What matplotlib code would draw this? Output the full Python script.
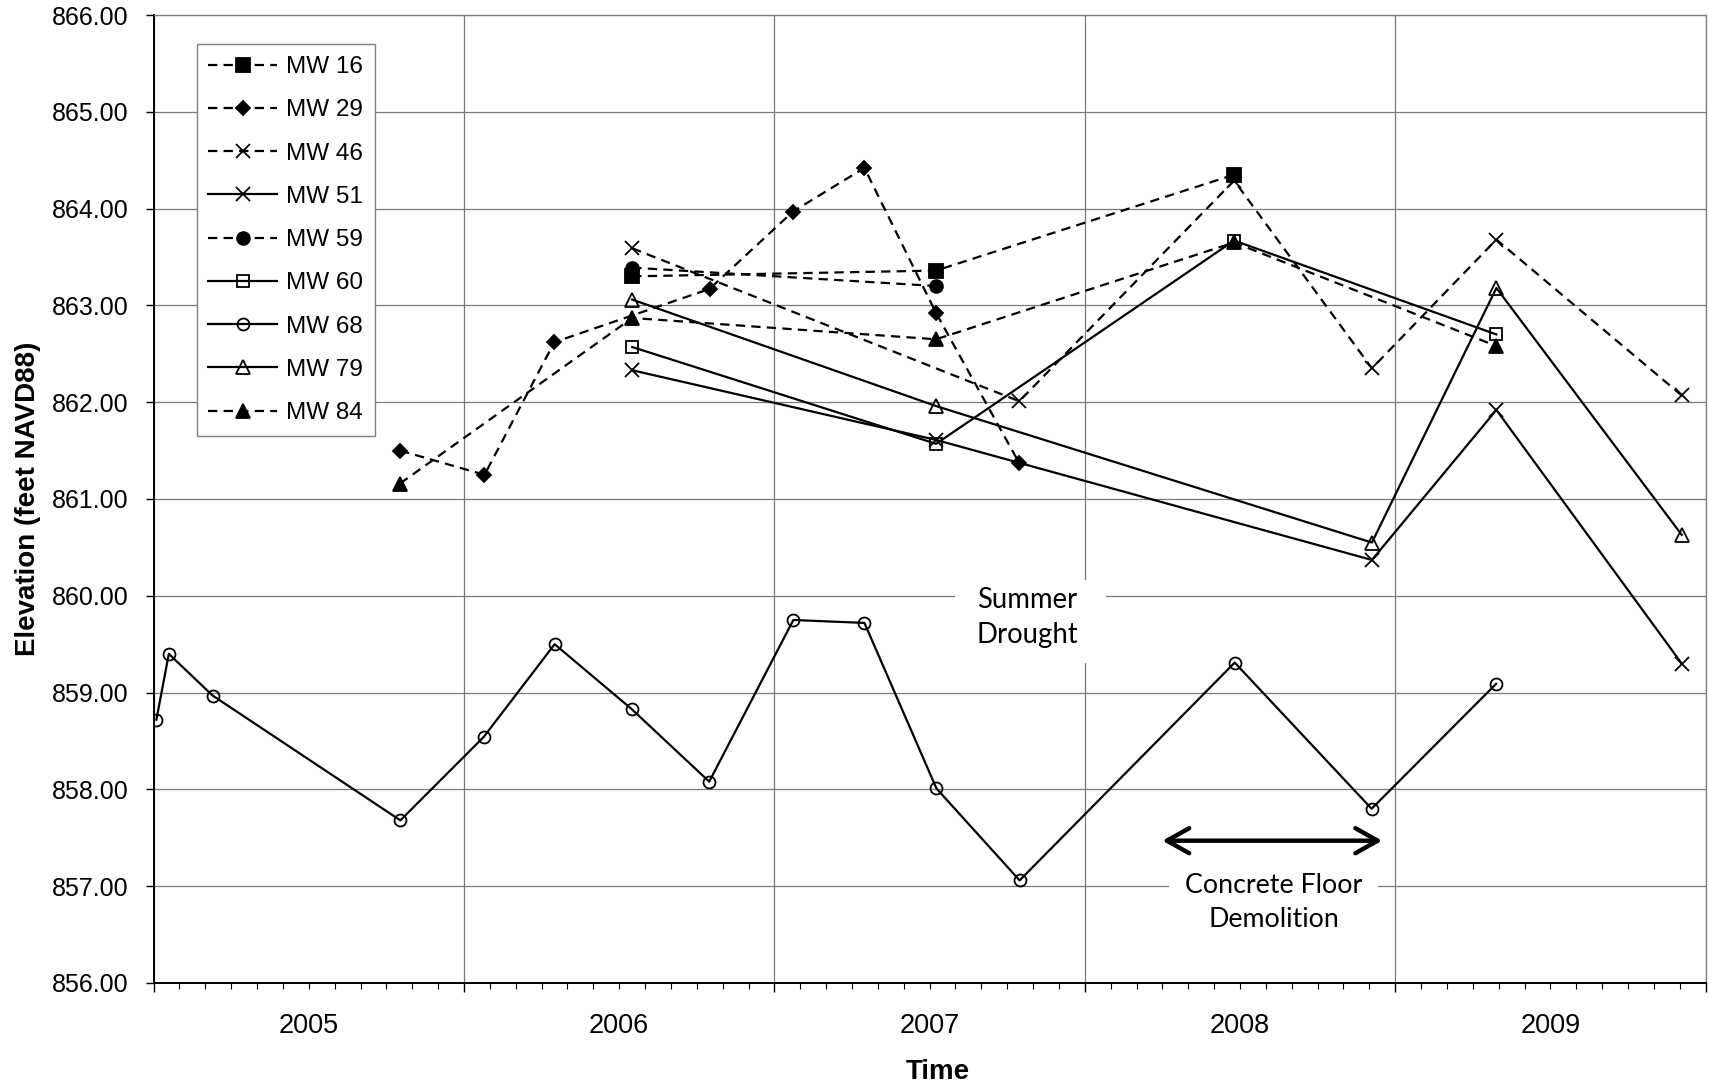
import matplotlib
matplotlib.use('Agg')
import matplotlib.pyplot as plt
from matplotlib.patches import Rectangle

plt.rcParams['font.family'] = ['Liberation Sans', 'DejaVu Sans']

# ---------------- data (decimal year on the chart axis, elevation ft NAVD88) ----------------
mw16_t = [2006.542, 2007.521, 2008.481]
mw16_v = [863.30, 863.36, 864.35]

mw29_t = [2005.794, 2006.066, 2006.291, 2006.791, 2007.060, 2007.290, 2007.521, 2007.789]
mw29_v = [861.50, 861.25, 862.62, 863.17, 863.97, 864.42, 862.92, 861.37]

mw46_t = [2006.542, 2007.789, 2008.481, 2008.925, 2009.326, 2009.923]
mw46_v = [863.59, 862.01, 864.29, 862.35, 863.68, 862.07]

mw51_t = [2006.542, 2007.521, 2008.925, 2009.326, 2009.923]
mw51_v = [862.33, 861.61, 860.37, 861.92, 859.30]

mw59_t = [2006.542, 2007.521]
mw59_v = [863.39, 863.20]

mw60_t = [2006.542, 2007.521, 2008.481, 2009.326]
mw60_v = [862.57, 861.57, 863.67, 862.70]

mw68_t = [2005.009, 2005.049, 2005.190, 2005.795, 2006.063, 2006.292, 2006.540, 2006.790,
          2007.061, 2007.290, 2007.522, 2007.790, 2008.483, 2008.924, 2009.325]
mw68_v = [858.72, 859.40, 858.97, 857.68, 858.54, 859.50, 858.83, 858.08,
          859.75, 859.72, 858.01, 857.06, 859.31, 857.80, 859.09]

mw79_t = [2006.542, 2007.521, 2008.925, 2009.326, 2009.923]
mw79_v = [863.06, 861.96, 860.55, 863.18, 860.63]

mw84_t = [2005.794, 2006.542, 2007.521, 2008.481, 2009.326]
mw84_v = [861.16, 862.87, 862.65, 863.65, 862.58]

year_labels = ['2005', '2006', '2007', '2008', '2009']
y_ticks = [856, 857, 858, 859, 860, 861, 862, 863, 864, 865, 866]

# ---------------- figure ----------------
fig = plt.figure(figsize=(17.09, 10.87), dpi=100)
ax = fig.add_axes([0.08988, 0.09568, 0.90813, 0.89052])

dash = (0, (4.2, 2.8))
LW = 1.6
MEW = 1.3
series = [
    ('MW 16', mw16_t, mw16_v, dict(ls=dash, marker='s', ms=9.4, mfc='black')),
    ('MW 29', mw29_t, mw29_v, dict(ls=dash, marker='D', ms=7.4, mfc='black')),
    ('MW 46', mw46_t, mw46_v, dict(ls=dash, marker='x', ms=10, mfc='black')),
    ('MW 51', mw51_t, mw51_v, dict(ls='-', marker='x', ms=10, mfc='black')),
    ('MW 59', mw59_t, mw59_v, dict(ls=dash, marker='o', ms=9.2, mfc='black')),
    ('MW 60', mw60_t, mw60_v, dict(ls='-', marker='s', ms=9.0, mfc='none')),
    ('MW 68', mw68_t, mw68_v, dict(ls='-', marker='o', ms=8.6, mfc='none')),
    ('MW 79', mw79_t, mw79_v, dict(ls='-', marker='^', ms=9.6, mfc='none')),
    ('MW 84', mw84_t, mw84_v, dict(ls=dash, marker='^', ms=9.6, mfc='black')),
]
for name, t, v, st in series:
    ax.plot(t, v, color='black', lw=LW, mec='black', mew=MEW, label=name, zorder=3, **st)

# ---------------- axes ----------------
ax.set_xlim(2005, 2010)
ax.set_ylim(856, 866)
ax.set_axisbelow(True)

years = list(range(2005, 2011))
ax.set_xticks(years)
ax.set_xticklabels([''] * len(years))
minor_pos, minor_lab = [], []
for y in range(2005, 2010):
    for m in range(1, 12):
        minor_pos.append(y + m / 12.0)
        minor_lab.append(year_labels[y - 2005] if m == 6 else '')
ax.set_xticks(minor_pos, minor=True)
ax.set_xticklabels(minor_lab, minor=True)

ax.set_yticks(y_ticks)
ax.set_yticklabels(['%.2f' % t for t in y_ticks])

ax.tick_params(axis='y', which='major', direction='out', length=5.5, width=1.0,
               pad=12.7, labelsize=18, colors='black')
ax.tick_params(axis='x', which='major', direction='out', length=6.3, width=1.0)
ax.tick_params(axis='x', which='minor', direction='out', length=4.3, width=0.8,
               pad=17, labelsize=19.5)

grid_c = '#7a7a7a'
ax.grid(True, which='major', axis='both', color=grid_c, lw=0.9)
for s in ['top', 'right']:
    ax.spines[s].set_color(grid_c)
    ax.spines[s].set_linewidth(0.9)
for s in ['left', 'bottom']:
    ax.spines[s].set_color('black')
    ax.spines[s].set_linewidth(1.4)

ax.set_ylabel('Elevation (feet NAVD88)', fontsize=20, fontweight='bold')
ax.yaxis.set_label_coords(-0.0725, 0.5)
ax.set_xlabel('Time', fontsize=20, fontweight='bold')
ax.xaxis.set_label_coords(0.505, -0.0785)

# ---------------- legend ----------------
leg = ax.legend(loc='upper left', bbox_to_anchor=(0.0278, 0.9697), borderaxespad=0,
                fancybox=False, edgecolor='#808080', framealpha=1, fontsize=17.5,
                handlelength=2.84, handletextpad=0.35, labelspacing=0.875,
                borderpad=0.48, numpoints=1)
leg.get_frame().set_linewidth(1.0)

# ---------------- annotations ----------------
ann_font = 'Lato'
ax.add_patch(Rectangle((2007.582, 859.306), 2008.068 - 2007.582, 860.163 - 859.306,
                       facecolor='white', edgecolor='none', zorder=1))
ax.text(2007.814, 859.78, 'Summer\nDrought', ha='center', va='center',
        multialignment='center', fontsize=19.8, family=ann_font, zorder=2,
        linespacing=1.42)

ax.add_patch(Rectangle((2008.271, 856.39), 2008.944 - 2008.271, 857.27 - 856.39,
                       facecolor='white', edgecolor='none', zorder=1))
ax.text(2008.608, 856.83, 'Concrete Floor\nDemolition', ha='center', va='center',
        multialignment='center', fontsize=19.3, family=ann_font, zorder=2,
        linespacing=1.42)

ax.annotate('', xy=(2008.958, 857.47), xytext=(2008.250, 857.47),
            arrowprops=dict(arrowstyle='<->,head_length=0.8,head_width=0.45', lw=3.2,
                            color='black', shrinkA=0, shrinkB=0, mutation_scale=20),
            zorder=4)

fig.savefig('out.png', dpi=100)
